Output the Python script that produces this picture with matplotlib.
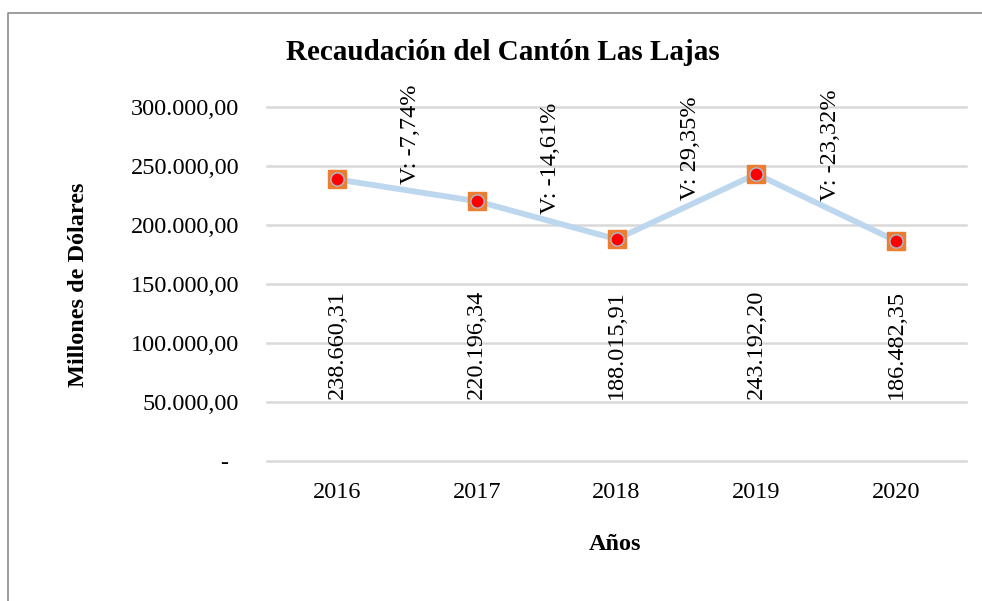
import matplotlib
matplotlib.use("Agg")
import matplotlib.pyplot as plt
from matplotlib.lines import Line2D
import matplotlib.transforms as mtransforms

# ---- data ----
years = ["2016", "2017", "2018", "2019", "2020"]
recaudacion = [238660.31, 220196.34, 188015.91, 243192.20, 186482.35]
variacion = [-7.74, -14.61, 29.35, -23.32]
yticks = [0, 50000, 100000, 150000, 200000, 250000, 300000]
title = "Recaudación del Cantón Las Lajas"
xlabel = "Años"
ylabel = "Millones de Dólares"

plt.rcParams['font.family'] = ['Liberation Serif', 'DejaVu Serif']


def es_fmt(v):
    s = f"{v:,.2f}"
    return s.replace(",", "X").replace(".", ",").replace("X", ".")


W, H = 982, 601
fig = plt.figure(figsize=(W / 100, H / 100), dpi=100)
ax = fig.add_axes([267 / W, 1 - 461 / H, (966 - 267) / W, (461 - 107) / H])

x = list(range(len(years)))
ax.plot(x, recaudacion, color="#BDD7EE", lw=4.2, zorder=3, solid_capstyle="round")
ax.plot(x, recaudacion, ls="none", marker="s", ms=12.5, mfc="#ED7D31",
        mec="#ED7D31", zorder=4)
ax.plot(x, recaudacion, ls="none", marker="o", ms=9.5, mfc="#FF0000",
        mec="#A9BDD6", mew=1.0, zorder=5)

ax.set_xlim(-0.5, len(years) - 0.5)
ax.set_ylim(0, 300000)
ax.set_yticks(yticks)
ax.set_yticklabels(["-" if t == 0 else es_fmt(t) for t in yticks])
ax.set_xticks(x)
ax.set_xticklabels(years)
ax.grid(axis="y", color="#D9D9D9", lw=1.8)
for gl in ax.get_ygridlines():
    gl.set_clip_on(False)
ax.set_axisbelow(True)
for s in ax.spines.values():
    s.set_visible(False)
ax.tick_params(axis="both", length=0, labelsize=17.5)
ax.tick_params(axis="y", pad=20)
ax.tick_params(axis="x", pad=15)

# shift the "-" label for zero left
for lab in ax.get_yticklabels():
    if lab.get_text() == "-":
        lab.set_transform(lab.get_transform() +
                          mtransforms.ScaledTranslation(-11 / 100, 0, fig.dpi_scale_trans))

# value labels
trans = mtransforms.blended_transform_factory(ax.transData, ax.transAxes)
for xi, v in zip(x, recaudacion):
    ax.text(xi, 0.175, es_fmt(v), rotation=90, ha="center", va="bottom",
            fontsize=17.5, transform=trans, zorder=6)

# variation labels
for i, p in enumerate(variacion):
    xm = (x[i] + x[i + 1]) / 2
    ym = (recaudacion[i] + recaudacion[i + 1]) / 2
    txt = "V: " + f"{p:.2f}".replace(".", ",") + "%"
    ax.annotate(txt, (xm, ym), xytext=(3, 4.5), textcoords="offset points",
                rotation=90, ha="center", va="bottom", fontsize=17.5, zorder=6)

fig.text(503 / W, 1 - 52 / H, title, ha="center", va="center",
         fontsize=21, fontweight="bold")
fig.text(615 / W, 1 - 545 / H, xlabel, ha="center", va="center",
         fontsize=17.5, fontweight="bold")
fig.text(78 / W, 1 - 285 / H, ylabel, ha="center", va="center",
         fontsize=17.5, fontweight="bold", rotation=90)

# outer border (left and top)
fig.add_artist(Line2D([7.5 / W, 7.5 / W, 1.0], [0, 1 - 12.5 / H, 1 - 12.5 / H],
                      transform=fig.transFigure, color="#8C8C8C", lw=1.2))

fig.savefig("out.png", dpi=100, facecolor="white")
